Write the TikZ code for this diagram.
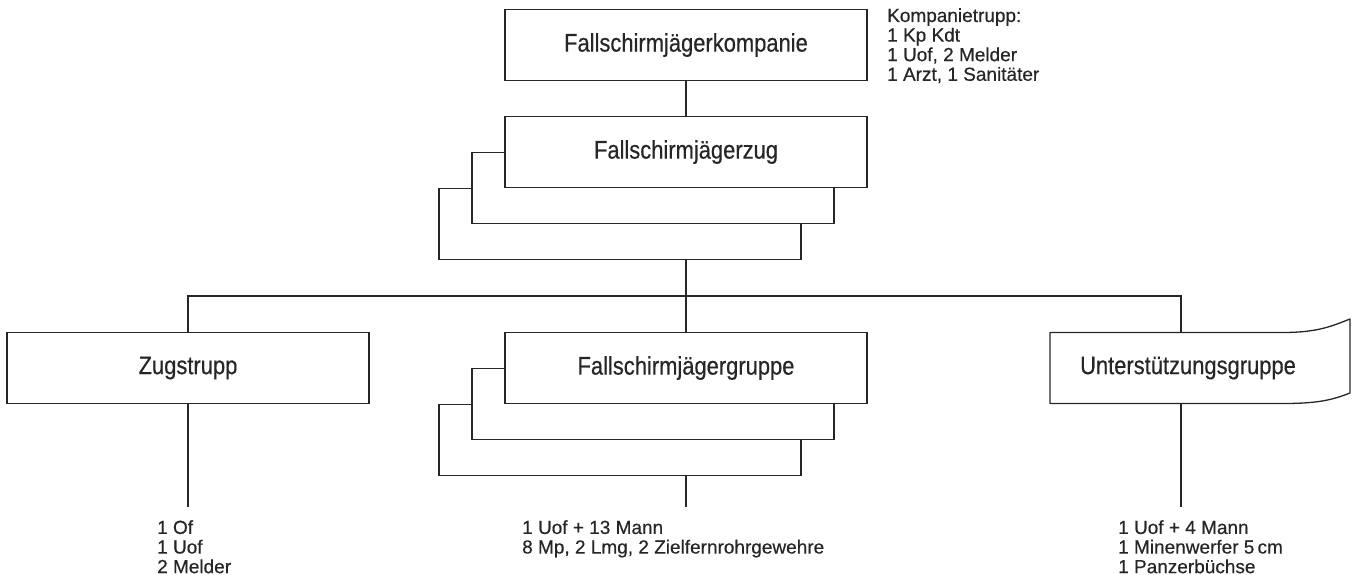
\documentclass[tikz,border=0pt]{standalone}
\usepackage{fontspec}
\setmainfont{Liberation Sans}[FakeBold=0.35]
\newfontfamily\boxfont{Liberation Sans}[FakeStretch=0.86,FakeBold=0.4]
\newfontfamily\notefont{Liberation Sans}[FakeBold=0.45]
\usetikzlibrary{positioning}
\definecolor{ink}{HTML}{262626}
\tikzset{
  unit/.style={draw=ink, fill=white, line width=1.3pt, minimum width=362pt,
    minimum height=71pt, inner sep=0pt, text=ink,
    font=\boxfont\fontsize{25.5}{30}\selectfont},
  strength/.style={anchor=north west, align=left, inner sep=0pt, text=ink,
    font=\notefont\fontsize{19}{19.6}\selectfont},
  link/.style={draw=ink, line width=1.3pt},
}
\begin{document}
\begin{tikzpicture}[x=1pt,y=-1pt]
  % --- Parameters ---
  \def\dx{33}      % shift of a stacked copy to the left
  \def\dy{36}      % shift of a stacked copy downwards
  \useasboundingbox (0,0) rectangle (1357,575);
  % --- Kompanie ---
  \node[unit] (kp) at (686,45) {Fallschirmjägerkompanie};
  \node[strength] (kptxt) at (887,8) {Kompanietrupp:\\1 Kp Kdt\\1 Uof, 2 Melder\\1 Arzt, 1 Sanitäter};
  % --- Zug (three stacked copies, back one first) ---
  \node[unit] (zug3) at (686-2*\dx,152+2*\dy) {};
  \node[unit] (zug2) at (686-\dx,152+\dy) {};
  \node[unit] (zug) at (686,152) {Fallschirmjägerzug};
  \draw[link] (kp.south) -- (zug.north);
  % --- Gruppen row ---
  \coordinate (bus) at (686,296);
  \coordinate (foot) at (0,507);
  \node[unit] (zs) at (188,368) {Zugstrupp};
  \node[unit] (grp3) at (686-2*\dx,368+2*\dy) {};
  \node[unit] (grp2) at (686-\dx,368+\dy) {};
  \node[unit] (grp) at (686,368) {Fallschirmjägergruppe};
  % Unterstuetzungsgruppe: box with curled right end
  \coordinate (ugnw) at (1050,332.5);
  \coordinate (ugsw) at (1050,403.5);
  \coordinate (ugtop) at (1181,332.5);
  \coordinate (ugbot) at (1181,403.5);
  \draw[link, line join=round] (ugsw) -- (ugnw) -- (1283,332.5)
    .. controls (1318,332.5) and (1332,326) .. (1350,319) -- (1350,393)
    .. controls (1332,400) and (1318,403.5) .. (1283,403.5) -- cycle;
  \node[text=ink, font=\boxfont\fontsize{25.5}{30}\selectfont] (ug) at (1188,368) {Unterstützungsgruppe};
  % --- Connectors ---
  \draw[link] (zug3.south -| zug) -- (bus);
  \draw[link] (zs.north) |- (bus) -| (ugtop);
  \draw[link] (bus) -- (grp.north);
  \draw[link] (zs.south) -- (zs.south |- foot);
  \draw[link] (grp3.south -| grp) -- (grp |- foot);
  \draw[link] (ugbot) -- (ugbot |- foot);
  % --- Strengths ---
  \node[strength] (zstxt) at (157,520) {1 Of\\1 Uof\\2 Melder};
  \node[strength] (grptxt) at (522,520) {1 Uof + 13 Mann\\8 Mp, 2 Lmg, 2 Zielfernrohrgewehre};
  \node[strength] (ugtxt) at (1118,520) {1 Uof + 4 Mann\\1 Minenwerfer 5\,cm\\1 Panzerbüchse};
\end{tikzpicture}
\end{document}
